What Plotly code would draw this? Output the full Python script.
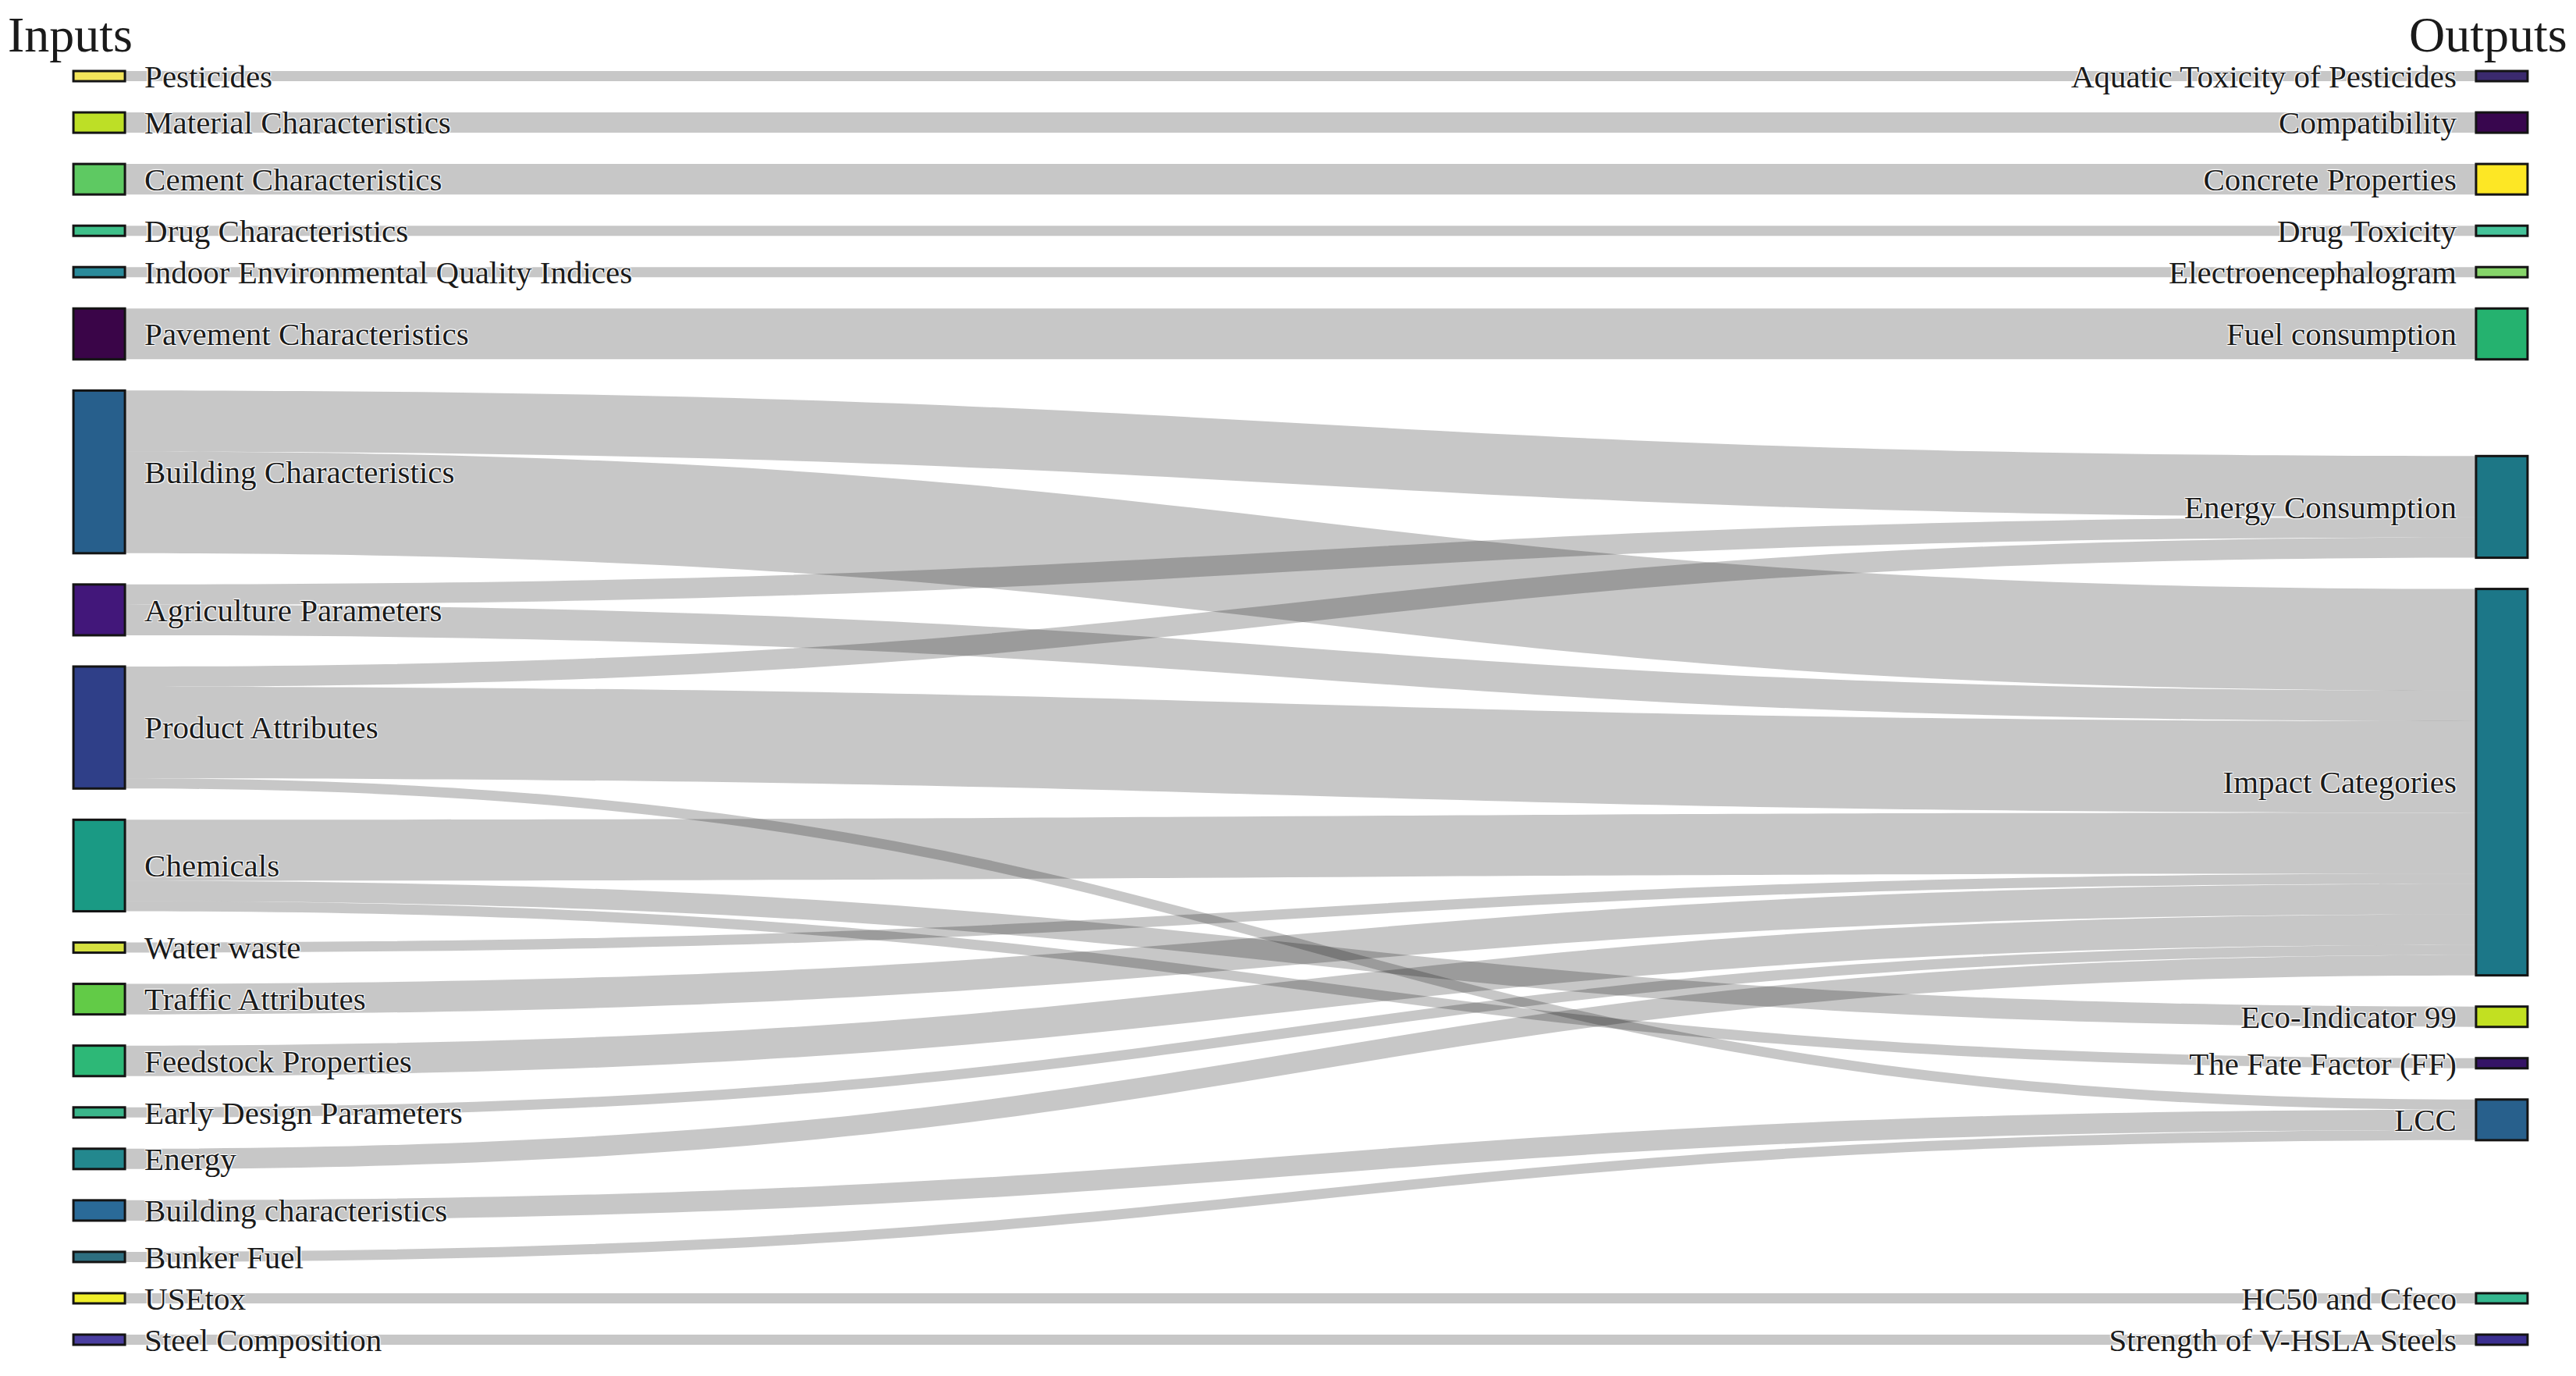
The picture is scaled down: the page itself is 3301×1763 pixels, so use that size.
"""
Sankey of input parameter groups feeding the output indicators.
"""

import plotly.graph_objects as go

# left column (inputs), top to bottom
inputs = [
    "Pesticides", "Material Characteristics", "Cement Characteristics",
    "Drug Characteristics", "Indoor Environmental Quality Indices",
    "Pavement Characteristics", "Building Characteristics",
    "Agriculture Parameters", "Product Attributes", "Chemicals",
    "Water waste", "Traffic Attributes", "Feedstock Properties",
    "Early Design Parameters", "Energy", "Building characteristics",
    "Bunker Fuel", "USEtox", "Steel Composition",
]
input_colors = [
    "#f3e55a", "#bddf26", "#5ec962", "#3fc08a", "#2a8a9a", "#3a0548",
    "#275f8c", "#42177a", "#2f3f88", "#1a9a84", "#d5e040", "#62cb47",
    "#2db877", "#3ab58a", "#23888e", "#2a6a98", "#2d6e80", "#f0ef2a",
    "#4a3ea0",
]

# right column (outputs), top to bottom
outputs = [
    "Aquatic Toxicity of Pesticides", "Compatibility", "Concrete Properties",
    "Drug Toxicity", "Electroencephalogram", "Fuel consumption",
    "Energy Consumption", "Impact Categories", "Eco-Indicator 99",
    "The Fate Factor (FF)", "LCC", "HC50 and Cfeco",
    "Strength of V-HSLA Steels",
]
output_colors = [
    "#3b2a6e", "#38064e", "#fde725", "#45c39a", "#86d46a", "#25b26f",
    "#1d7786", "#1c7788", "#c2e021", "#351466", "#28608c", "#35b78f",
    "#3b2f90",
]

# links: source, target, value
link_source = [
    "Pesticides", "Material Characteristics", "Cement Characteristics",
    "Drug Characteristics", "Indoor Environmental Quality Indices",
    "Pavement Characteristics",
    "Building Characteristics", "Building Characteristics",
    "Agriculture Parameters", "Agriculture Parameters",
    "Product Attributes", "Product Attributes", "Product Attributes",
    "Chemicals", "Chemicals", "Chemicals",
    "Water waste", "Traffic Attributes", "Feedstock Properties",
    "Early Design Parameters", "Energy",
    "Building characteristics", "Bunker Fuel", "USEtox", "Steel Composition",
]
link_target = [
    "Aquatic Toxicity of Pesticides", "Compatibility", "Concrete Properties",
    "Drug Toxicity", "Electroencephalogram", "Fuel consumption",
    "Energy Consumption", "Impact Categories",
    "Energy Consumption", "Impact Categories",
    "Energy Consumption", "Impact Categories", "LCC",
    "Impact Categories", "Eco-Indicator 99", "The Fate Factor (FF)",
    "Impact Categories", "Impact Categories", "Impact Categories",
    "Impact Categories", "Impact Categories",
    "LCC", "LCC", "HC50 and Cfeco", "Strength of V-HSLA Steels",
]
link_value = [
    1, 2, 3,
    1, 1, 5,
    6, 10,
    2, 3,
    2, 9, 1,
    6, 2, 1,
    1, 3, 3,
    1, 2,
    2, 1, 1, 1,
]

FONT = "Liberation Serif, Times New Roman, serif"
W, H = 3301, 1763
MARGIN = dict(l=116, r=100, t=83, b=48)
PAD = 40
THICK = 66


def column_layout():
    """Stack the inputs, then put each output at the mean height of its incoming bands."""
    plot_h = H - MARGIN["t"] - MARGIN["b"]
    in_val = {n: 0 for n in inputs}
    out_val = {n: 0 for n in outputs}
    for s, t, v in zip(link_source, link_target, link_value):
        in_val[s] += v
        out_val[t] += v
    ky = min((plot_h - (len(col) - 1) * PAD) / sum(vals.values())
             for col, vals in ((inputs, in_val), (outputs, out_val)))

    in_top, top = {}, 0.0
    for n in inputs:
        in_top[n] = top
        top += in_val[n] * ky + PAD
    in_center = {n: in_top[n] + in_val[n] * ky / 2 for n in inputs}

    offset = dict(in_top)
    weighted = {n: 0.0 for n in outputs}
    order = sorted(zip(link_source, link_target, link_value),
                   key=lambda l: (inputs.index(l[0]), outputs.index(l[1])))
    for s, t, v in order:
        h = v * ky
        weighted[t] += (offset[s] + h / 2) * v
        offset[s] += h

    out_center, bottom = {}, -PAD
    for n in outputs:
        h = out_val[n] * ky
        y0 = max(weighted[n] / out_val[n] - h / 2, bottom + PAD, 0)
        out_center[n] = y0 + h / 2
        bottom = y0 + h
    shift = max(0.0, bottom - plot_h)
    for n in outputs:
        out_center[n] -= shift

    ys = [in_center[n] / plot_h for n in inputs] + [out_center[n] / plot_h for n in outputs]
    xs = [0.001] * len(inputs) + [0.999] * len(outputs)
    return xs, ys


labels = inputs + outputs
index = {name: i for i, name in enumerate(labels)}
node_x, node_y = column_layout()
# small gap between node and its label, like the original
shown = ["\u00a0\u00a0" + n for n in inputs] + [n + "\u00a0\u00a0" for n in outputs]

fig = go.Figure(go.Sankey(
    arrangement="fixed",
    node=dict(
        label=shown,
        color=input_colors + output_colors,
        x=node_x,
        y=node_y,
        pad=PAD,
        thickness=THICK,
        line=dict(color="#141414", width=3),
    ),
    link=dict(
        source=[index[s] for s in link_source],
        target=[index[t] for t in link_target],
        value=link_value,
        color="rgba(0,0,0,0.22)",
    ),
    textfont=dict(family=FONT, size=41, color="#1a1a1a"),
))

plot_h = H - MARGIN["t"] - MARGIN["b"]
title_y = 1 + MARGIN["t"] / plot_h
fig.add_annotation(text="Inputs", xref="paper", yref="paper", x=-0.0373, y=title_y,
                   xanchor="left", yanchor="top", showarrow=False, borderpad=0,
                   font=dict(family=FONT, size=64, color="#1a1a1a"))
fig.add_annotation(text="Outputs", xref="paper", yref="paper", x=1.0265, y=title_y,
                   xanchor="right", yanchor="top", showarrow=False, borderpad=0,
                   font=dict(family=FONT, size=64, color="#1a1a1a"))

fig.update_layout(
    width=W, height=H,
    margin=MARGIN,
    paper_bgcolor="white",
    plot_bgcolor="white",
)

fig.write_html("out.html")
